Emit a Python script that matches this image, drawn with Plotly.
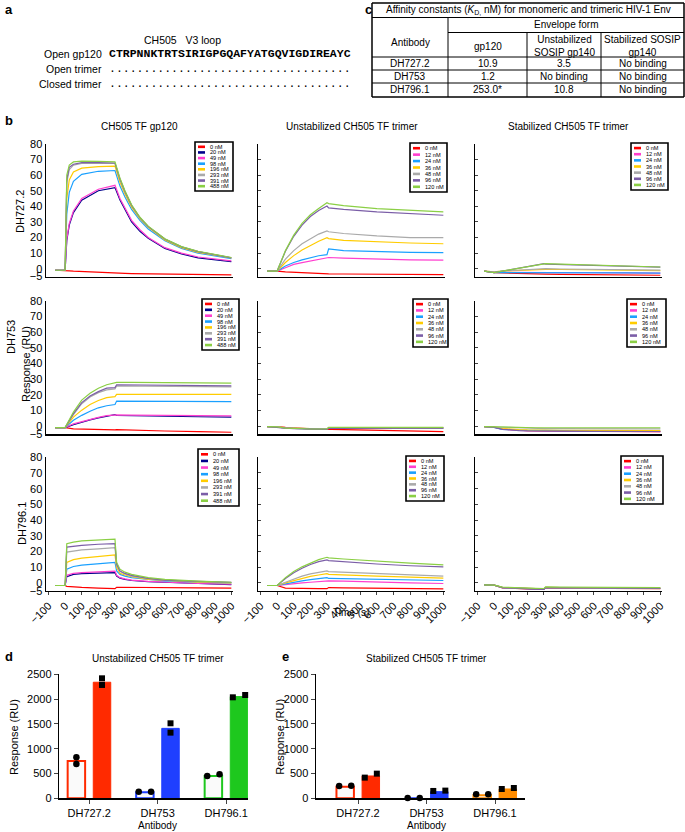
import plotly.graph_objects as go

W, H = 685, 832
def px(x): return x / W
def py(y): return 1 - y / H

FONT = "Liberation Sans"

# ---------------- data ----------------
gp120_conc = ["0 nM", "20 nM", "49 nM", "98 nM", "196 nM", "293 nM", "391 nM", "488 nM"]
trimer_conc = ["0 nM", "12 nM", "24 nM", "36 nM", "48 nM", "96 nM", "120 nM"]
gp120_colors = ["#FF0000", "#00008B", "#FF3FCF", "#1AA0FF", "#FFCC00", "#AAAAAA", "#7B5EA7", "#8BCF45"]
trimer_colors = ["#FF0000", "#FF3FCF", "#1AA0FF", "#FFCC00", "#AAAAAA", "#7B5EA7", "#8BCF45"]

time_gp120_dh727 = [-60, 0, 10, 25, 50, 100, 200, 300, 330, 360, 400, 450, 500, 600, 700, 800, 1000]
resp_gp120_dh727 = [
    [-1, -1, -1.3, -1.4, -1.6, -1.9, -2.4, -3, -2.9, -3, -3.1, -3.2, -3.3, -3.5, -3.6, -3.8, -4],
    [-1, -1, 18, 28, 36, 44, 50, 52, 44, 38, 30, 24, 19.5, 13, 9.5, 7, 4.5],
    [-1, -1, 19, 29, 37, 45, 51, 53.5, 45, 39, 31, 25, 20, 13.5, 10, 7.5, 5],
    [-1, -1, 35, 49, 56, 60.5, 62.5, 63, 53, 46, 38, 31, 25.5, 18, 13, 10, 6.5],
    [-1, -1, 45, 57, 62, 64.5, 65.5, 65.8, 55.5, 48, 39.5, 32, 26.5, 18.5, 13.5, 10.5, 7],
    [-1, -1, 55, 63.5, 66.5, 67.5, 67.5, 67.5, 57, 49, 40.5, 32.5, 27, 19, 14, 11, 7],
    [-1, -1, 57, 65, 67, 68, 68, 67.8, 57.5, 49.5, 40.5, 32.8, 27, 19, 14, 11, 7],
    [-1, -1, 60, 66.5, 68.5, 69, 68.8, 68.5, 58, 50, 41, 33, 27.3, 19.2, 14.2, 11.2, 7.2],
]

time_trimer = [-60, 0, 50, 100, 150, 200, 250, 300, 310, 400, 600, 800, 1000]
resp_unstab_dh727 = [
    [-1.5, -1.5, -2, -2.3, -2.6, -2.9, -3.1, -3.3, -3.3, -3.4, -3.6, -3.7, -3.8],
    [-1.5, -1.5, 0.6, 2.8, 3.9, 5, 6.1, 7.2, 7.2, 6.8, 6.1, 5.7, 5.5],
    [-1.5, -1.5, 1.7, 4, 5.7, 7.2, 8.3, 9, 12.7, 11.6, 11, 10.5, 10.3],
    [-1.5, -1.5, 4, 8.4, 12, 15, 17.6, 19.9, 19.3, 18.2, 17.2, 16.5, 16],
    [-1.5, -1.5, 6.2, 11.6, 16, 19.3, 22.2, 24.3, 23.7, 22.6, 21, 20, 19.9],
    [-1.5, -1.5, 11.2, 20.8, 28, 33.5, 37.3, 40.2, 39, 38, 36.4, 35.3, 34.3],
    [-1.5, -1.5, 11.6, 21.5, 29.1, 34.6, 38.6, 42.3, 41.8, 40.5, 38.6, 37.5, 36.4],
]
resp_stab_dh727 = [
    [-1.5, -2.5, -2.7, -2.9, -3.1, -3.2, -3.3, -3.4, -3.5, -3.6, -3.8, -4, -4.2],
    [-1.5, -2.3, -2.3, -2.3, -2.3, -2.3, -2.3, -2.2, -2.4, -2.5, -2.6, -2.7, -2.8],
    [-1.5, -2.5, -2.5, -2.5, -2.4, -2.4, -2.3, -2.3, -2.4, -2.5, -2.6, -2.7, -2.8],
    [-1.5, -2, -1.5, -1.2, -1, -0.7, -0.5, -0.3, -0.4, -0.5, -0.8, -1, -1.2],
    [-1.5, -2, -1.5, -1.2, -0.8, -0.5, -0.2, 0.2, 0, -0.2, -0.5, -0.7, -0.9],
    [-1.5, -2.5, -1.6, -0.6, 0.4, 1.4, 2.3, 3.2, 3, 2.7, 2, 1.5, 1],
    [-1.5, -2.5, -1.5, -0.5, 0.5, 1.5, 2.5, 3.5, 3.3, 3, 2.3, 1.7, 1.1],
]
resp_gp120_dh753 = [
    [-0.9, -0.9, -1.7, -1.9, -2.1, -2.2, -2.3, -2.4, -2.2, -2.6, -3.1, -3.5, -3.9],
    [-0.9, -0.9, 0.9, 2.6, 4, 5.3, 6.5, 7.4, 6.8, 6.6, 6.3, 6, 5.8],
    [-0.9, -0.9, 1.5, 3, 4.3, 5.6, 6.7, 7.4, 7.2, 7, 6.8, 6.6, 6.5],
    [-0.9, -0.9, 3.7, 6.9, 9.5, 11.7, 13, 13.8, 16, 16, 15.8, 15.7, 15.6],
    [-0.9, -0.9, 5.8, 10.2, 13.8, 16.4, 18.2, 18.8, 20.3, 20.3, 20.3, 20.3, 20.3],
    [-0.9, -0.9, 7.4, 14.3, 18.6, 21.4, 23.1, 23.8, 25.7, 25.6, 25.4, 25.2, 25],
    [-0.9, -0.9, 8, 15, 19.2, 22, 24.2, 24.6, 26.4, 26.3, 26.1, 25.9, 25.7],
    [-0.9, -0.9, 9, 16.6, 21, 24.2, 26.4, 27.5, 27.9, 27.9, 27.8, 27.7, 27.5],
]
resp_unstab_dh753 = [
    [-0.3, -0.3, -0.8, -1.2, -1.5, -1.7, -1.9, -2, -2.1, -2.3, -2.7, -3.1, -3.5],
    [-0.3, -0.5, -1.1, -1.4, -1.6, -1.7, -1.8, -1.8, -1.5, -1.4, -1.4, -1.3, -1.3],
    [-0.3, -0.5, -1.2, -1.5, -1.7, -1.8, -1.9, -1.9, -1.5, -1.4, -1.4, -1.4, -1.4],
    [-0.3, -0.4, -1, -1.3, -1.5, -1.6, -1.7, -1.7, -1.2, -1.1, -1.1, -1.1, -1.1],
    [-0.3, -0.4, -1, -1.3, -1.5, -1.6, -1.6, -1.6, -1, -0.9, -0.9, -0.9, -0.9],
    [-0.3, -0.6, -1.3, -1.6, -1.8, -1.9, -2, -2, -1.4, -1.3, -1.3, -1.3, -1.3],
    [-0.3, -0.5, -1.2, -1.5, -1.7, -1.8, -1.8, -1.7, -0.8, -0.8, -0.8, -0.8, -0.8],
]
resp_stab_dh753 = [
    [-0.3, -0.6, -1.8, -2.3, -2.6, -2.8, -3, -3.1, -3.1, -3.2, -3.3, -3.4, -3.5],
    [-0.3, -0.7, -1.9, -2.4, -2.7, -2.9, -3, -3.1, -3.1, -3.2, -3.3, -3.4, -3.5],
    [-0.3, -0.8, -2, -2.3, -2.5, -2.6, -2.7, -2.8, -2.8, -2.9, -3, -3, -3.1],
    [-0.3, -0.5, -1.5, -2, -2.2, -2.4, -2.5, -2.6, -2.6, -2.6, -2.7, -2.7, -2.8],
    [-0.3, -0.5, -1, -1.2, -1.4, -1.5, -1.6, -1.6, -1.6, -1.6, -1.7, -1.7, -1.7],
    [-0.3, -0.8, -2, -2.5, -2.8, -3, -3.1, -3.2, -3.2, -3.2, -3.3, -3.3, -3.4],
    [-0.3, -0.5, -0.8, -0.9, -1, -1, -1, -1, -1, -1, -1, -1, -1],
]
time_gp120_dh796 = [-60, 0, 10, 50, 100, 200, 300, 310, 330, 360, 400, 500, 600, 800, 1000]
resp_gp120_dh796 = [
    [-1.7, -1.7, -2.2, -2.6, -2.9, -3.3, -3.7, -2.8, -2.8, -2.9, -2.9, -3, -3.1, -3.2, -3.3],
    [-1.7, -1.7, 3.9, 5.4, 5.9, 6.3, 6.5, 4.3, 3, 2.2, 1.5, 0.7, 0.2, -0.4, -1.1],
    [-1.7, -1.7, 4.8, 6.1, 6.5, 7, 7.4, 4.8, 3.3, 2.5, 1.7, 0.9, 0.4, -0.4, -0.9],
    [-1.7, -1.7, 8.7, 10.4, 11.3, 12, 13, 7.6, 5.4, 4.3, 3.3, 2.2, 1.3, 0.4, 0],
    [-1.7, -1.7, 13, 14.8, 15.7, 16.7, 17.8, 9.8, 6.1, 5, 3.9, 2.2, 1.5, 0.4, 0],
    [-1.7, -1.7, 19.6, 20.4, 21, 21.7, 22.4, 11.3, 7.2, 5.6, 4.3, 2.6, 1.7, 0.7, 0.2],
    [-1.7, -1.7, 22.8, 23.5, 23.9, 24.6, 25, 12, 7.6, 6, 4.8, 2.8, 1.7, 0.9, 0.4],
    [-1.7, -1.7, 25, 26, 26.7, 27.4, 27.8, 13, 8.7, 6.8, 5.4, 3.3, 2.2, 1.1, 0.4],
]
resp_unstab_dh796 = [
    [-1.7, -1.7, -3.3, -3.5, -3.6, -3.6, -3.7, -3.7, -3, -3.2, -3.5, -3.7, -3.9],
    [-1.7, -1.7, -1.1, -0.4, 0, 0.4, 0.9, 1.5, 1.3, 1.1, 0.4, 0, -0.4],
    [-1.7, -1.7, -0.7, 0.4, 1.3, 2, 2.6, 3.3, 2.8, 2.6, 2.2, 1.8, 1.5],
    [-1.7, -1.7, 0, 1.5, 3, 4.1, 5, 5.9, 5.4, 5, 4.3, 3.7, 3],
    [-1.7, -1.7, 0.4, 2.6, 4.3, 5.7, 6.7, 7.6, 7.2, 6.8, 5.9, 5.2, 4.3],
    [-1.7, -1.7, 2.8, 6.5, 9.3, 11.7, 13.5, 14.6, 14.2, 13.5, 12, 10.9, 10.2],
    [-1.7, -1.7, 3.3, 7.2, 10.2, 12.6, 14.8, 16.3, 15.9, 15.2, 13.7, 12.6, 11.5],
]
resp_stab_dh796 = [
    [-1.3, -1.5, -3.2, -3.5, -3.7, -3.9, -4, -4.1, -3.2, -3.3, -3.5, -3.6, -3.7],
    [-1.3, -1.5, -3.1, -3.4, -3.6, -3.8, -3.9, -4, -3.1, -3.2, -3.4, -3.5, -3.6],
    [-1.3, -1.5, -3, -3.3, -3.5, -3.7, -3.8, -3.9, -3, -3.1, -3.3, -3.4, -3.5],
    [-1.3, -1.5, -2.9, -3.2, -3.4, -3.6, -3.7, -3.8, -2.9, -3, -3.2, -3.3, -3.4],
    [-1.3, -1.5, -2.9, -3.2, -3.4, -3.6, -3.7, -3.8, -2.9, -3, -3.2, -3.3, -3.4],
    [-1.3, -1.5, -3, -3.4, -3.6, -3.8, -4, -4.1, -3.1, -3.2, -3.4, -3.5, -3.6],
    [-1.3, -1.5, -2.7, -3, -3.2, -3.4, -3.5, -3.6, -2.6, -2.7, -2.9, -3, -3.1],
]

antibodies = ["DH727.2", "DH753", "DH796.1"]
d_open_vals = [750, 120, 450]
d_fill_vals = [2340, 1410, 2050]
d_open_pts = [[826, 692], [134, 134], [450, 484]]
d_fill_pts = [[2419, 2285], [1512, 1324], [2036, 2083]]
e_open_vals = [235, 0, 60]
e_fill_vals = [450, 134, 188]
e_open_pts = [[249, 255], [7, 7], [81, 81]]
e_fill_pts = [[417, 497], [148, 155], [188, 208]]

table_header = ["Antibody", "gp120", "Unstabilized<br>SOSIP gp140", "Stabilized SOSIP<br>gp140"]
table_rows = [
    ["DH727.2", "10.9", "3.5", "No binding"],
    ["DH753", "1.2", "No binding", "No binding"],
    ["DH796.1", "253.0*", "10.8", "No binding"],
]
v3_seq = "CTRPNNKTRTSIRIGPGQAFYATGQVIGDIREAYC"

# ---------------- layout constants ----------------
col_px = [(46, 233), (258, 445), (475, 662)]
row_px = [(144, 276.5), (300.7, 434), (457.3, 590.7)]
legend_px = {
    (0, 0): (195, 142, 233, 191), (0, 1): (410, 143, 447, 192), (0, 2): (631, 143, 668, 190),
    (1, 0): (202, 299, 239, 350), (1, 1): (413, 299, 448, 347), (1, 2): (627, 299, 666, 347),
    (2, 0): (198, 449, 239, 506), (2, 1): (406, 456, 444, 501), (2, 2): (621, 456, 663, 504),
}

panels = [
    [(time_gp120_dh727, resp_gp120_dh727, gp120_conc, gp120_colors),
     (time_trimer, resp_unstab_dh727, trimer_conc, trimer_colors),
     (time_trimer, resp_stab_dh727, trimer_conc, trimer_colors)],
    [(time_trimer, resp_gp120_dh753, gp120_conc, gp120_colors),
     (time_trimer, resp_unstab_dh753, trimer_conc, trimer_colors),
     (time_trimer, resp_stab_dh753, trimer_conc, trimer_colors)],
    [(time_gp120_dh796, resp_gp120_dh796, gp120_conc, gp120_colors),
     (time_trimer, resp_unstab_dh796, trimer_conc, trimer_colors),
     (time_trimer, resp_stab_dh796, trimer_conc, trimer_colors)],
]

fig = go.Figure()
layout = dict(
    width=W, height=H, margin=dict(l=0, r=0, t=0, b=0, pad=0, autoexpand=False),
    paper_bgcolor="white", plot_bgcolor="rgba(0,0,0,0)",
    showlegend=False, barmode="overlay",
    font=dict(family=FONT, size=11, color="black"),
)
shapes = []
annotations = []

def ann(x, y, text, size=10, xanchor="center", yanchor="middle", angle=0, family=FONT, **kw):
    annotations.append(dict(x=px(x), y=py(y), xref="paper", yref="paper", text=text,
                            showarrow=False, xanchor=xanchor, yanchor=yanchor, textangle=angle,
                            font=dict(size=size, family=family, color="black"), **kw))

def line(x0, y0, x1, y1, w=1, color="black"):
    shapes.append(dict(type="line", xref="paper", yref="paper", x0=px(x0), y0=py(y0),
                       x1=px(x1), y1=py(y1), line=dict(color=color, width=w)))

ytv = [-5] + list(range(0, 81, 10))
ytt = ["\u22125"] + [str(v) for v in range(0, 81, 10)]
xtv = list(range(-100, 1001, 100))
xtt = ["\u2212100"] + [str(v) for v in range(0, 1001, 100)]

for r in range(3):
    for c in range(3):
        k = r * 3 + c + 1
        sx = "" if k == 1 else str(k)
        x0, x1 = col_px[c]
        y0, y1 = row_px[r]
        layout["xaxis" + sx] = dict(
            domain=[px(x0), px(x1)], range=[-115, 1010], anchor="y" + sx, automargin=False,
            showline=True, linecolor="black", linewidth=1.5, showgrid=False, zeroline=False,
            tickvals=xtv, ticktext=xtt, showticklabels=(r == 2),
            ticks="outside" if r == 2 else "", ticklen=3, tickangle=-45,
            tickfont=dict(size=11), fixedrange=True)
        layout["yaxis" + sx] = dict(
            domain=[py(y1), py(y0)], range=[-5, 80], anchor="x" + sx, automargin=False,
            showline=True, linecolor="black", linewidth=1.5, showgrid=False, zeroline=False,
            tickvals=ytv, ticktext=ytt, showticklabels=(c == 0),
            ticks="" if c == 0 else "inside", ticklen=3,
            tickfont=dict(size=11), fixedrange=True)
        t, series, conc, colors = panels[r][c]
        for ys, col, name in zip(series, colors, conc):
            fig.add_trace(go.Scatter(x=t, y=ys, mode="lines", name=name,
                                     line=dict(color=col, width=1.2),
                                     xaxis="x" + sx, yaxis="y" + sx, hoverinfo="skip"))
        # legend box
        lx0, ly0, lx1, ly1 = legend_px[(r, c)]
        shapes.append(dict(type="rect", xref="paper", yref="paper", x0=px(lx0), y0=py(ly1),
                           x1=px(lx1), y1=py(ly0), line=dict(color="black", width=1.6),
                           fillcolor="white"))
        n = len(conc)
        pitch = (ly1 - ly0 - 4) / n
        for i, (name, col) in enumerate(zip(conc, colors)):
            yy = ly0 + 2 + pitch * (i + 0.5)
            line(lx0 + 3, yy, lx0 + 10, yy, w=2.6, color=col)
            ann(lx0 + 13, yy, name, size=5.6, xanchor="left")

# panel b texts
ann(139.5, 126, "CH505 TF gp120", size=10)
ann(351.5, 126, "Unstabilized CH505 TF trimer", size=10)
ann(568.5, 126, "Stabilized CH505 TF trimer", size=10)
ann(20, 212, "DH727.2", size=11, angle=-90)
ann(11, 337, "DH753", size=11, angle=-90)
ann(26, 364, "Response (RU)", size=11, angle=-90)
ann(22, 524, "DH796.1", size=11, angle=-90)
ann(351, 612, "Time (s)", size=10)

# ---------------- panels d and e ----------------
def bar_panel(k, xdom, group0_px, open_vals, fill_vals, open_pts, fill_pts, colors, open_jit, fill_jit):
    sx = str(k)
    pitch = 68.5
    x0, x1 = xdom
    layout["xaxis" + sx] = dict(
        domain=[px(x0), px(x1)], range=[(x0 - group0_px) / pitch, (x1 - group0_px) / pitch],
        anchor="y" + sx, automargin=False, showline=True, linecolor="black", linewidth=1.5,
        showgrid=False, zeroline=False, tickvals=[0, 1, 2], ticktext=antibodies,
        ticks="outside", ticklen=4, tickfont=dict(size=11), fixedrange=True)
    layout["yaxis" + sx] = dict(
        domain=[py(798.3), py(674.3)], range=[0, 2500], anchor="x" + sx, automargin=False,
        showline=True, linecolor="black", linewidth=1.5, showgrid=False, zeroline=False,
        tickvals=[0, 500, 1000, 1500, 2000, 2500], ticks="outside", ticklen=4,
        tickfont=dict(size=11), fixedrange=True)
    off = 0.187
    bw = 0.255
    fig.add_trace(go.Bar(x=[g - off for g in range(3)], y=open_vals, width=bw,
                         marker=dict(color="#FAFAFA", line=dict(color=colors, width=2)),
                         xaxis="x" + sx, yaxis="y" + sx, hoverinfo="skip"))
    fig.add_trace(go.Bar(x=[g + off for g in range(3)], y=fill_vals, width=bw,
                         marker=dict(color=colors, line=dict(color=colors, width=1)),
                         xaxis="x" + sx, yaxis="y" + sx, hoverinfo="skip"))
    ox, oy, fx_, fy_ = [], [], [], []
    for g in range(3):
        for v, j in zip(open_pts[g], open_jit[g]):
            ox.append(g - off + j); oy.append(v)
        for v, j in zip(fill_pts[g], fill_jit[g]):
            fx_.append(g + off + j); fy_.append(v)
    fig.add_trace(go.Scatter(x=ox, y=oy, mode="markers", cliponaxis=False,
                             marker=dict(symbol="circle", size=6.5, color="black"),
                             xaxis="x" + sx, yaxis="y" + sx, hoverinfo="skip"))
    fig.add_trace(go.Scatter(x=fx_, y=fy_, mode="markers", cliponaxis=False,
                             marker=dict(symbol="square", size=6, color="black"),
                             xaxis="x" + sx, yaxis="y" + sx, hoverinfo="skip"))

d_colors = ["#FF2A00", "#1F3FFF", "#1EC81E"]
e_colors = ["#FF2A00", "#1F3FFF", "#FF8C00"]
d_open_jit = [[0, 0], [-0.09, 0.09], [-0.09, 0.09]]
d_fill_jit = [[0, 0], [0, 0], [-0.09, 0.09]]
e_jit = [[-0.088, 0.088], [-0.088, 0.088], [-0.088, 0.088]]
bar_panel(10, (59.3, 248), 89.2, d_open_vals, d_fill_vals, d_open_pts, d_fill_pts, d_colors, d_open_jit, d_fill_jit)
bar_panel(11, (316, 525), 358, e_open_vals, e_fill_vals, e_open_pts, e_fill_pts, e_colors, e_jit, e_jit)

ann(157.5, 658, "Unstabilized CH505 TF trimer", size=10)
ann(426.7, 658, "Stabilized CH505 TF trimer", size=10)
ann(157.7, 825, "Antibody", size=10)
ann(426.7, 825, "Antibody", size=10)
ann(13.3, 736.7, "Response (RU)", size=11, angle=-90)
ann(280, 736.7, "Response (RU)", size=11, angle=-90)

# ---------------- panel labels ----------------
ann(3, 9, "<b>a</b>", size=13, xanchor="left")
ann(3, 121, "<b>b</b>", size=13, xanchor="left")
ann(363, 9, "<b>c</b>", size=13, xanchor="left")
ann(3, 656, "<b>d</b>", size=13, xanchor="left")
ann(280, 656, "<b>e</b>", size=13, xanchor="left")

# ---------------- panel a ----------------
ann(182, 40, "CH505   V3 loop", size=10.5)
ann(104, 54, "Open gp120", size=10.5, xanchor="right")
ann(104, 69, "Open trimer", size=10.5, xanchor="right")
ann(104, 84, "Closed trimer", size=10.5, xanchor="right")
ann(107, 54, "<b>" + v3_seq + "</b>", size=11.5, xanchor="left", family="Liberation Mono")
ann(107, 68, "." * len(v3_seq), size=11.5, xanchor="left", family="Liberation Mono")
ann(107, 83, "." * len(v3_seq), size=11.5, xanchor="left", family="Liberation Mono")

# ---------------- panel c (table) ----------------
tx = [372, 448, 527, 601, 684]
line(tx[0], 3, tx[4], 3, 1.5); line(tx[0], 97, tx[4], 97, 1.5)
line(tx[0], 3, tx[0], 97, 1.5); line(tx[4], 3, tx[4], 97, 1.5)
line(tx[0], 17.5, tx[4], 17.5)
line(tx[1], 32.5, tx[4], 32.5)
for yy in (57, 70, 83):
    line(tx[0], yy, tx[4], yy)
line(tx[1], 17.5, tx[1], 97)
line(tx[2], 32.5, tx[2], 97)
line(tx[3], 32.5, tx[3], 97)
ann(528, 10.5, "Affinity constants (<i>K</i><sub>D,</sub> nM) for monomeric and trimeric HIV-1 Env", size=10)
ann(565.5, 25, "Envelope form", size=10)
ann(410, 43, table_header[0], size=10)
ann(487.5, 46, table_header[1], size=10)
ann(564, 46, table_header[2], size=10)
ann(642.5, 46, table_header[3], size=10)
for i, row in enumerate(table_rows):
    yy = 63.5 + 13 * i
    for j, txt in enumerate(row):
        ann((tx[j] + tx[j + 1]) / 2, yy, txt, size=10)

layout["shapes"] = shapes
layout["annotations"] = annotations
fig.update_layout(**layout)
fig.write_html("out.html", config={"displayModeBar": False, "staticPlot": True},
               post_script="document.body.style.margin='0px';document.body.style.overflow='hidden';")
